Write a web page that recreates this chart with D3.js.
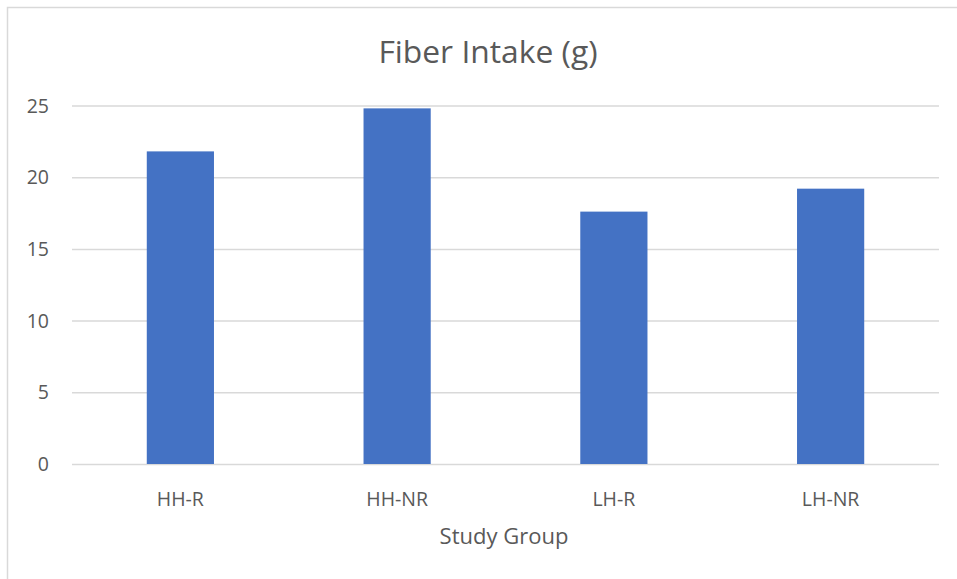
<!DOCTYPE html>
<html>
<head>
<meta charset="utf-8">
<script src="https://cdn.jsdelivr.net/npm/d3@7"></script>
<style>
  body { margin: 0; background: #fff; }
  text { font-family: "Open Sans", "Noto Sans", sans-serif; fill: #595959; }
  .grid line { stroke: #d9d9d9; stroke-width: 1.5; }
</style>
</head>
<body>
<svg id="chart"></svg>
<script>
"use strict";

// data
const categories = ["HH-R", "HH-NR", "LH-R", "LH-NR"];
const fiber      = [21.8, 24.8, 17.6, 19.2];
const yTicks     = [0, 5, 10, 15, 20, 25];

const title  = "Fiber Intake (g)",
      xTitle = "Study Group";

const W = 957, H = 579;
const margin = { top: 105.5, right: 18, bottom: 115, left: 72 };
const width  = W - margin.left - margin.right,
      height = H - margin.top - margin.bottom;

const svg = d3.select("#chart")
    .attr("width", W)
    .attr("height", H);

// chart frame (runs off the right / bottom edge)
svg.append("rect")
    .attr("x", 7.5).attr("y", 7.5)
    .attr("width", W + 20).attr("height", H + 20)
    .attr("fill", "none")
    .attr("stroke", "#d9d9d9")
    .attr("stroke-width", 1.5);

const g = svg.append("g")
    .attr("transform", "translate(" + margin.left + "," + margin.top + ")");

// scales
const x = d3.scaleBand()
    .domain(categories)
    .range([0, width])
    .paddingInner(0.69)
    .paddingOuter(0.345);

const y = d3.scaleLinear()
    .domain([0, 25])
    .range([height, 0]);

// y axis + gridlines
const yAxis = g.append("g")
    .attr("class", "grid")
    .call(d3.axisLeft(y).tickValues(yTicks).tickSize(-width).tickPadding(23));
yAxis.select(".domain").remove();
yAxis.selectAll("text")
    .attr("font-size", "19.5px")
    .attr("font-family", null)
    .attr("dy", "0.34em");

// bars
g.selectAll(".bar")
    .data(fiber)
  .enter().append("rect")
    .attr("class", "bar")
    .attr("x", (d, i) => x(categories[i]))
    .attr("y", (d) => y(d))
    .attr("width", x.bandwidth())
    .attr("height", (d) => y(0) - y(d))
    .attr("fill", "#4472c4");

// x axis labels
const xAxis = g.append("g")
    .attr("transform", "translate(0," + height + ")")
    .call(d3.axisBottom(x).tickSize(0));
xAxis.select(".domain").remove();
xAxis.selectAll("text")
    .attr("font-size", "19.5px")
    .attr("font-family", null)
    .attr("y", 42)
    .attr("dy", null);

// titles
svg.append("text")
    .attr("x", 488)
    .attr("y", 63)
    .attr("text-anchor", "middle")
    .attr("font-size", "31.8px")
    .text(title);

svg.append("text")
    .attr("x", 504)
    .attr("y", 544)
    .attr("text-anchor", "middle")
    .attr("font-size", "22px")
    .text(xTitle);
</script>
</body>
</html>
